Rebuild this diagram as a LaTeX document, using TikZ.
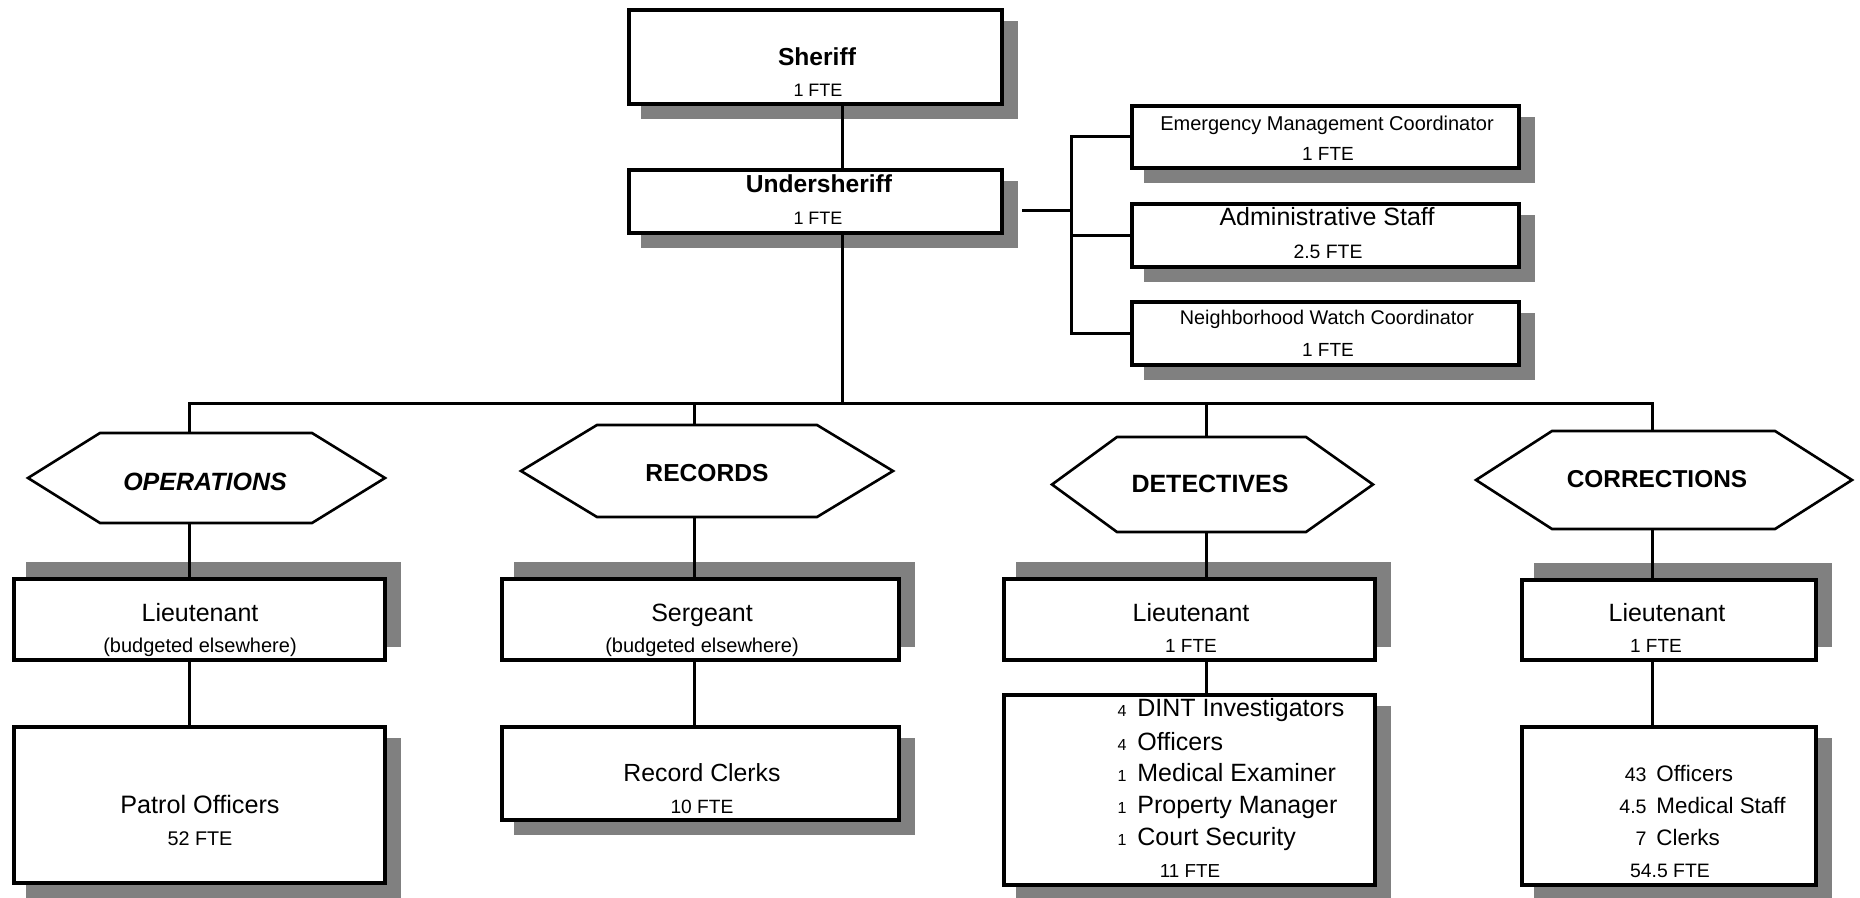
\documentclass[tikz,border=0pt]{standalone}
\usepackage{fontspec}
\setmainfont{Liberation Sans}
\usetikzlibrary{backgrounds}
\definecolor{shgray}{HTML}{808080}
\newcommand{\fsz}[1]{\fontsize{#1}{#1}\selectfont}
\newcommand{\hexout}[3]{\draw[hexline] (#1.north west) -- (#1.north east) -- ([xshift=#3]#1.east) -- (#1.south east) -- (#1.south west) -- ([xshift=-#2]#1.west) -- cycle;}
\newcommand{\shdr}[1]{\fill[shgray] ([shift={(7pt,-6.5pt)}]#1.south west) rectangle ([shift={(7pt,-6.5pt)}]#1.north east);}
\newcommand{\shur}[1]{\fill[shgray] ([shift={(7pt,7.5pt)}]#1.south west) rectangle ([shift={(7pt,7.5pt)}]#1.north east);}
\begin{document}
\begin{tikzpicture}[x=0.5pt,y=-0.5pt,
  box/.style={draw,line width=2pt,fill=white,inner sep=0pt},
  hexnode/.style={inner sep=0pt,outer sep=0pt},
  hexline/.style={line width=1.3pt,line join=miter},
  conn/.style={line width=1.5pt},
  lbl/.style={inner sep=0pt,anchor=base}]
\useasboundingbox (0,0) rectangle (1860,898);

% ---- boxes
\node[box,minimum width=186.5pt,minimum height=47pt] (sheriff) at (815.5,57) {};
\node[box,minimum width=186.5pt,minimum height=31.5pt] (under) at (815.5,201.5) {};
\node[box,minimum width=193.5pt,minimum height=31pt] (emc) at (1325.5,137) {};
\node[box,minimum width=193.5pt,minimum height=31.5pt] (admin) at (1325.5,235.5) {};
\node[box,minimum width=193.5pt,minimum height=31.5pt] (nwc) at (1325.5,333.5) {};

\node[box,minimum width=185.5pt,minimum height=40.5pt] (opslt) at (199.5,619.5) {};
\node[box,minimum width=185.5pt,minimum height=78pt] (patrol) at (199.5,805) {};
\node[box,minimum width=198.5pt,minimum height=40.5pt] (sgt) at (700.5,619.5) {};
\node[box,minimum width=198.5pt,minimum height=46.5pt] (clerks) at (700.5,773.5) {};
\node[box,minimum width=185.5pt,minimum height=40.5pt] (detlt) at (1189.5,619.5) {};
\node[box,minimum width=185.5pt,minimum height=95pt] (detstaff) at (1189.5,790) {};
\node[box,minimum width=147pt,minimum height=40pt] (corlt) at (1669,620) {};
\node[box,minimum width=147pt,minimum height=79pt] (corstaff) at (1669,806) {};

% ---- hexagons
\node[hexnode,minimum width=106pt,minimum height=45pt] (ops) at (206,478) {};
\node[hexnode,minimum width=110pt,minimum height=46pt] (rec) at (707,471) {};
\node[hexnode,minimum width=94.5pt,minimum height=47.5pt] (det) at (1211.5,484.5) {};
\node[hexnode,minimum width=111.5pt,minimum height=49pt] (cor) at (1663.5,480) {};
\hexout{ops}{36pt}{36.5pt}
\hexout{rec}{38pt}{38pt}
\hexout{det}{32.5pt}{33.5pt}
\hexout{cor}{38pt}{38.5pt}

% ---- shadows
\begin{pgfonlayer}{background}
\shdr{sheriff}\shdr{under}\shdr{emc}\shdr{admin}\shdr{nwc}
\shur{opslt}\shur{sgt}\shur{detlt}\shur{corlt}
\shdr{patrol}\shdr{clerks}\shdr{detstaff}\shdr{corstaff}
\end{pgfonlayer}

% ---- texts
\node[lbl,font=\fsz{12.3}\bfseries] (t-sheriff) at (817,66) {Sheriff};
\node[lbl,font=\fsz{9}] (t-sheriff-f) at (818,97) {1 FTE};
\node[lbl,font=\fsz{12.3}\bfseries] (t-under) at (819,193) {Undersheriff};
\node[lbl,font=\fsz{9}] (t-under-f) at (818,225) {1 FTE};
\node[lbl,font=\fsz{10}] (t-emc) at (1327,131) {Emergency Management Coordinator};
\node[lbl,font=\fsz{9.5}] (t-emc-f) at (1328,161) {1 FTE};
\node[lbl,font=\fsz{12.5}] (t-admin) at (1327,226) {Administrative Staff};
\node[lbl,font=\fsz{9.7}] (t-admin-f) at (1328,259) {2.5 FTE};
\node[lbl,font=\fsz{9.9}] (t-nwc) at (1327,325) {Neighborhood Watch Coordinator};
\node[lbl,font=\fsz{9.5}] (t-nwc-f) at (1328,357) {1 FTE};

\node[lbl,font=\fsz{12.5}\bfseries\itshape] (t-ops) at (205,491) {OPERATIONS};
\node[lbl,font=\fsz{12.3}\bfseries] (t-rec) at (707,482) {RECORDS};
\node[lbl,font=\fsz{12.5}\bfseries] (t-det) at (1210,493) {DETECTIVES};
\node[lbl,font=\fsz{12.2}\bfseries] (t-cor) at (1657,488) {CORRECTIONS};

\node[lbl,font=\fsz{12.5}] (t-opslt) at (200,622) {Lieutenant};
\node[lbl,font=\fsz{10}] (t-opslt-f) at (200,653) {(budgeted elsewhere)};
\node[lbl,font=\fsz{12.6}] (t-patrol) at (200,813) {Patrol Officers};
\node[lbl,font=\fsz{9.9}] (t-patrol-f) at (200,845) {52 FTE};

\node[lbl,font=\fsz{12.5}] (t-sgt) at (702,622) {Sergeant};
\node[lbl,font=\fsz{10}] (t-sgt-f) at (702,653) {(budgeted elsewhere)};
\node[lbl,font=\fsz{12.4}] (t-clerks) at (702,781) {Record Clerks};
\node[lbl,font=\fsz{9.6}] (t-clerks-f) at (702,813) {10 FTE};

\node[lbl,font=\fsz{12.5}] (t-detlt) at (1191,622) {Lieutenant};
\node[lbl,font=\fsz{9.5}] (t-detlt-f) at (1191,653) {1 FTE};
\node[lbl,font=\fsz{8},anchor=base east] (n-d1) at (1127,717) {4};
\node[lbl,font=\fsz{12.5},anchor=base west] (l-d1) at (1137,717) {DINT Investigators};
\node[lbl,font=\fsz{8},anchor=base east] (n-d2) at (1127,750) {4};
\node[lbl,font=\fsz{12.5},anchor=base west] (l-d2) at (1137,750) {Officers};
\node[lbl,font=\fsz{8},anchor=base east] (n-d3) at (1127,782) {1};
\node[lbl,font=\fsz{12.5},anchor=base west] (l-d3) at (1137,782) {Medical Examiner};
\node[lbl,font=\fsz{8},anchor=base east] (n-d4) at (1127,813) {1};
\node[lbl,font=\fsz{12.5},anchor=base west] (l-d4) at (1137,813) {Property Manager};
\node[lbl,font=\fsz{8},anchor=base east] (n-d5) at (1127,845) {1};
\node[lbl,font=\fsz{12.5},anchor=base west] (l-d5) at (1137,845) {Court Security};
\node[lbl,font=\fsz{9.4}] (t-detstaff-f) at (1190,877) {11 FTE};

\node[lbl,font=\fsz{12.5}] (t-corlt) at (1667,622) {Lieutenant};
\node[lbl,font=\fsz{9.5}] (t-corlt-f) at (1656,653) {1 FTE};
\node[lbl,font=\fsz{9.8},anchor=base east] (n-c1) at (1647,782) {43};
\node[lbl,font=\fsz{11.2},anchor=base west] (l-c1) at (1656,782) {Officers};
\node[lbl,font=\fsz{9.8},anchor=base east] (n-c2) at (1647,813) {4.5};
\node[lbl,font=\fsz{11.2},anchor=base west] (l-c2) at (1656,813) {Medical Staff};
\node[lbl,font=\fsz{9.8},anchor=base east] (n-c3) at (1647,845) {7};
\node[lbl,font=\fsz{11.2},anchor=base west] (l-c3) at (1656,845) {Clerks};
\node[lbl,font=\fsz{9.7}] (t-corstaff-f) at (1670,877) {54.5 FTE};

% ---- connectors
\coordinate (jops) at (189,404);
\coordinate (jrec) at (694,404);
\coordinate (jdet) at (1206,404);
\coordinate (jcor) at (1652,404);
\coordinate (jus) at (842,404);
\coordinate (bx) at (1071,211);
\coordinate (uj) at (1022,211);

\draw[conn] (jus |- sheriff.south) -- (jus |- under.north);
\draw[conn] (jus |- under.south) -- (jus);
\draw[conn] (jops |- ops.north) -- (jops) -- (jcor) -- (jcor |- cor.north);
\draw[conn] (jrec) -- (jrec |- rec.north);
\draw[conn] (jdet) -- (jdet |- det.north);

\draw[conn] (jops |- ops.south) -- (jops |- opslt.north);
\draw[conn] (jops |- opslt.south) -- (jops |- patrol.north);
\draw[conn] (jrec |- rec.south) -- (jrec |- sgt.north);
\draw[conn] (jrec |- sgt.south) -- (jrec |- clerks.north);
\draw[conn] (jdet |- det.south) -- (jdet |- detlt.north);
\draw[conn] (jdet |- detlt.south) -- (jdet |- detstaff.north);
\draw[conn] (jcor |- cor.south) -- (jcor |- corlt.north);
\draw[conn] (jcor |- corlt.south) -- (jcor |- corstaff.north);

\draw[conn] (uj) -- (bx);
\draw[conn] (emc.west) -- (emc.west -| bx) -- (nwc.west -| bx) -- (nwc.west);
\draw[conn] (admin.west) -- (admin.west -| bx);
\end{tikzpicture}
\end{document}
